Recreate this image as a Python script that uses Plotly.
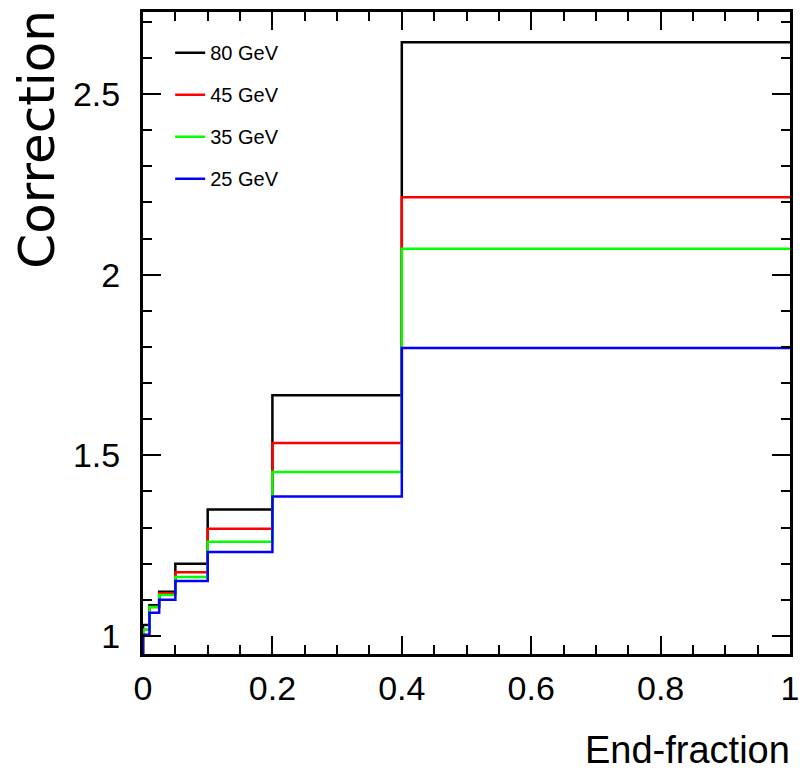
import plotly.graph_objects as go

# Bin edges of the end-fraction histogram
edges = [0, 0.01, 0.025, 0.05, 0.1, 0.2, 0.4, 1.0]

# Correction per bin for each beam energy
corr_80 = [1.03, 1.085, 1.122, 1.200, 1.350, 1.666, 2.643]
corr_45 = [1.017, 1.080, 1.118, 1.176, 1.297, 1.534, 2.214]
corr_35 = [1.017, 1.080, 1.113, 1.163, 1.261, 1.454, 2.072]
corr_25 = [1.003, 1.064, 1.100, 1.152, 1.232, 1.386, 1.797]

series_names = ["80 GeV", "45 GeV", "35 GeV", "25 GeV"]
series_vals = [corr_80, corr_45, corr_35, corr_25]
series_colors = ["#000000", "#ff0000", "#00ff00", "#0000ff"]

x_ticks = [0, 0.2, 0.4, 0.6, 0.8, 1.0]
x_ticklabels = ["0", "0.2", "0.4", "0.6", "0.8", "1"]
y_ticks = [1.0, 1.5, 2.0, 2.5]
y_ticklabels = ["1", "1.5", "2", "2.5"]

FONT = "Liberation Sans, Arial, Helvetica, sans-serif"

fig = go.Figure()
for i, (name, vals, col) in enumerate(zip(series_names, series_vals, series_colors)):
    xs = [edges[0]] + list(edges)
    ys = [0] + list(vals) + [vals[-1]]
    fig.add_trace(go.Scatter(
        x=xs, y=ys, mode="lines", name=name,
        line=dict(color=col, width=2.5, shape="hv"),
        legendgroup=f"g{i}",
    ))

axis_common = dict(
    showgrid=False, zeroline=False, showline=True, linecolor="black", linewidth=3,
    mirror="allticks", ticks="inside", ticklen=18, tickwidth=2, tickcolor="black",
    tickfont=dict(family=FONT, size=34, color="black"),
    automargin=False,
)

fig.update_xaxes(
    range=[0, 1.0], tickvals=x_ticks, ticktext=x_ticklabels,
    minor=dict(dtick=0.05, ticks="inside", ticklen=9, tickwidth=2, tickcolor="black"),
    ticklabelstandoff=2,
    **axis_common,
)
fig.update_yaxes(
    range=[0.95, 2.727], tickvals=y_ticks, ticktext=y_ticklabels,
    minor=dict(dtick=0.1, ticks="inside", ticklen=9, tickwidth=2, tickcolor="black"),
    ticklabelstandoff=13,
    **axis_common,
)

fig.add_annotation(
    text="Correction", xref="paper", yref="paper", x=-0.165, y=1.0,
    xanchor="center", yanchor="top", textangle=-90, showarrow=False, yshift=4,
    font=dict(family="DejaVu Sans, Liberation Sans, sans-serif", size=50, color="black"),
)
fig.add_annotation(
    text="End-fraction", xref="paper", yref="paper", x=1.0, y=-0.113,
    xanchor="right", yanchor="top", showarrow=False, xshift=2,
    font=dict(family=FONT, size=38, color="black"),
)

fig.update_layout(
    width=802, height=775,
    margin=dict(l=143, r=12, t=12, b=121),
    paper_bgcolor="white", plot_bgcolor="white",
    showlegend=True,
    legend=dict(
        x=0.042, y=0.967, xanchor="left", yanchor="top",
        bgcolor="rgba(0,0,0,0)", borderwidth=0,
        font=dict(family=FONT, size=20, color="black"),
        tracegroupgap=13,
    ),
)

fig.write_html("out.html")
